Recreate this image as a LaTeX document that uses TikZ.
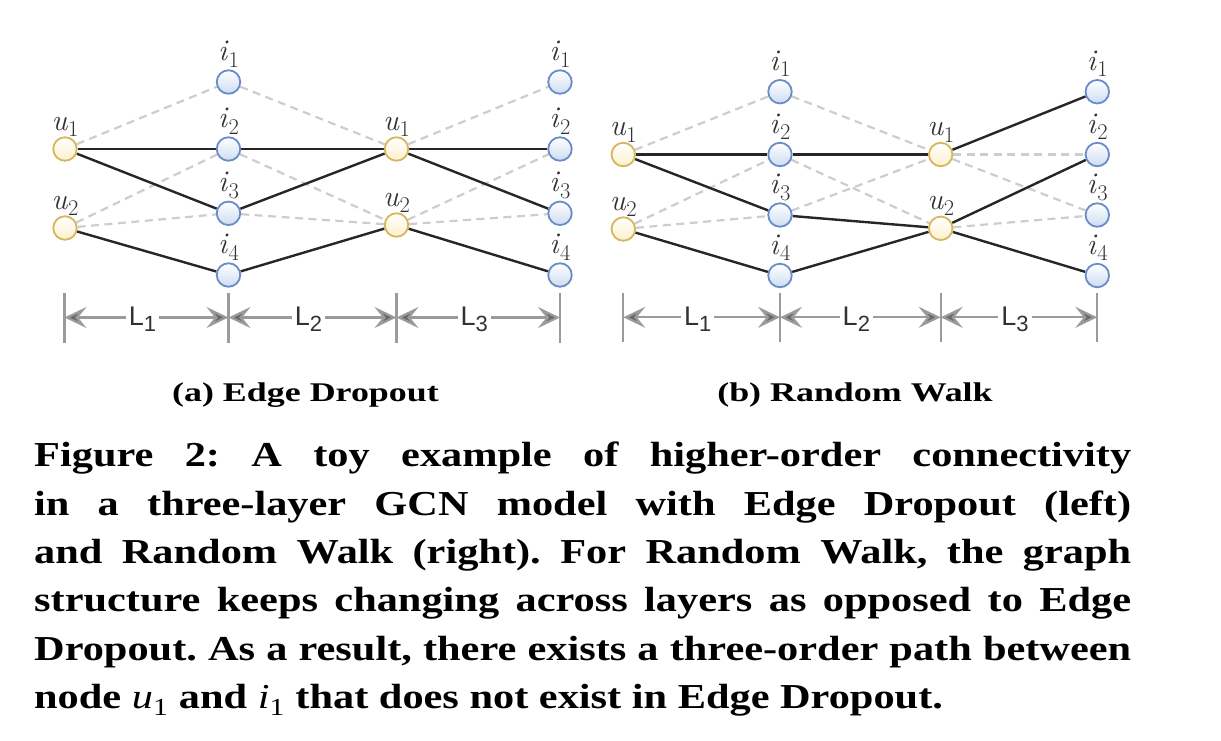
\documentclass[tikz,border=0pt]{standalone}
\usepackage{fontspec}
\usetikzlibrary{arrows.meta,backgrounds,calc}
\newfontfamily\capfont[FakeStretch=1.21]{Liberation Serif}
\newfontfamily\subcapfont[FakeStretch=1.33]{Liberation Serif}
\newfontfamily\dimfont{Liberation Sans}
\frenchspacing
\definecolor{ubord}{RGB}{214,182,92}
\definecolor{ufill}{RGB}{252,240,204}
\definecolor{ibord}{RGB}{104,140,200}
\definecolor{ifill}{RGB}{205,220,242}
\definecolor{edgecol}{RGB}{38,38,38}
\definecolor{dropcol}{RGB}{205,205,205}
\definecolor{dimcol}{RGB}{155,155,155}
\definecolor{tipcol}{RGB}{105,105,105}
\definecolor{labcol}{RGB}{50,50,50}
\tikzset{
  unode/.style={circle, draw=ubord, line width=1.8pt, minimum size=23.5pt, inner sep=0pt, top color=white, bottom color=ufill},
  inode/.style={circle, draw=ibord, line width=1.8pt, minimum size=23.5pt, inner sep=0pt, top color=white, bottom color=ifill},
  kept/.style={draw=edgecol, line width=2.4pt},
  dropped/.style={draw=dropcol, line width=2.2pt, dash pattern=on 8pt off 5.5pt},
  mlab/.style={anchor=base, text=labcol, font=\fontsize{30}{32}\selectfont, inner sep=0pt},
  tickline/.style={draw=dimcol, line width=2.2pt},
  dimline/.style={draw=dimcol, line width=2.2pt, <->, >={Stealth[length=22pt,width=21pt,inset=8.5pt,fill=tipcol]}},
  dimlab/.style={anchor=base, fill=white, text=labcol, font=\dimfont\fontsize{27}{28}\selectfont, inner sep=3pt},
  capline/.style={anchor=base west, inner sep=0pt, font=\capfont\bfseries\fontsize{35}{40}\selectfont},
  subcap/.style={anchor=base, inner sep=0pt, font=\subcapfont\bfseries\fontsize{27}{30}\selectfont},
}
\newcommand\nodelab[4]{\node[mlab] (#1l) at ($(#1)+(0,-#4)$) {\textit{#2}\raisebox{-6.5pt}{\fontsize{22.5}{23}\selectfont #3}};}
\newcommand\Lsub[1]{L\raisebox{-6pt}{\fontsize{22}{22}\selectfont #1}}
\begin{document}
\begin{tikzpicture}[x=1pt,y=-1pt]
\useasboundingbox (0,0) rectangle (1221,740);
% ---------------- panel (a) ----------------
\node[unode] (a_u1) at (65,149) {};
\node[unode] (a_u2) at (65,228) {};
\node[inode] (a_i1) at (228.5,82) {};
\node[inode] (a_i2) at (228.5,149) {};
\node[inode] (a_i3) at (228.5,213.3) {};
\node[inode] (a_i4) at (228.5,275) {};
\node[unode] (a_v1) at (396.5,149) {};
\node[unode] (a_v2) at (396.5,225) {};
\node[inode] (a_j1) at (560,82) {};
\node[inode] (a_j2) at (560,149) {};
\node[inode] (a_j3) at (560,213.3) {};
\node[inode] (a_j4) at (560,275) {};
\nodelab{a_u1}{u}{1}{19}
\nodelab{a_u2}{u}{2}{19}
\nodelab{a_i1}{i}{1}{21.5}
\nodelab{a_i2}{i}{2}{21.5}
\nodelab{a_i3}{i}{3}{21.5}
\nodelab{a_i4}{i}{4}{21.5}
\nodelab{a_v1}{u}{1}{19}
\nodelab{a_v2}{u}{2}{19}
\nodelab{a_j1}{i}{1}{21.5}
\nodelab{a_j2}{i}{2}{21.5}
\nodelab{a_j3}{i}{3}{21.5}
\nodelab{a_j4}{i}{4}{21.5}
\begin{scope}[on background layer]
\draw[dropped] (a_u1) -- (a_i1);
\draw[dropped] (a_u2) -- (a_i2);
\draw[dropped] (a_u2) -- (a_i3);
\draw[dropped] (a_i1) -- (a_v1);
\draw[dropped] (a_i2) -- (a_v2);
\draw[dropped] (a_i3) -- (a_v2);
\draw[dropped] (a_v1) -- (a_j1);
\draw[dropped] (a_v2) -- (a_j2);
\draw[dropped] (a_v2) -- (a_j3);
\draw[kept] (a_u1) -- (a_i2);
\draw[kept] (a_u1) -- (a_i3);
\draw[kept] (a_u2) -- (a_i4);
\draw[kept] (a_i2) -- (a_v1);
\draw[kept] (a_i3) -- (a_v1);
\draw[kept] (a_i4) -- (a_v2);
\draw[kept] (a_v1) -- (a_j2);
\draw[kept] (a_v1) -- (a_j3);
\draw[kept] (a_v2) -- (a_j4);
\end{scope}
\coordinate (a_t0) at (64.5,317.5);
\coordinate (a_t1) at (228.5,317.5);
\coordinate (a_t2) at (396.5,317.5);
\coordinate (a_t3) at (560,317.5);
\foreach \t in {a_t0,a_t1,a_t2,a_t3}{\draw[tickline] ($(\t)+(0,-24.5)$) -- ($(\t)+(0,25.5)$);}
\draw[dimline] (a_t0) -- (a_t1);
\draw[dimline] (a_t1) -- (a_t2);
\draw[dimline] (a_t2) -- (a_t3);
\node[dimlab] (a_L1) at ($(a_t0)!0.5!(a_t1)+(-4,8)$) {\Lsub{1}};
\node[dimlab] (a_L2) at ($(a_t1)!0.5!(a_t2)+(-4,8)$) {\Lsub{2}};
\node[dimlab] (a_L3) at ($(a_t2)!0.5!(a_t3)+(-4,8)$) {\Lsub{3}};
% ---------------- panel (b) ----------------
\node[unode] (b_u1) at (623.3,154.5) {};
\node[unode] (b_u2) at (623.3,229) {};
\node[inode] (b_i1) at (780,91.7) {};
\node[inode] (b_i2) at (780,154.5) {};
\node[inode] (b_i3) at (780,215) {};
\node[inode] (b_i4) at (780,275.5) {};
\node[unode] (b_v1) at (940.7,154.5) {};
\node[unode] (b_v2) at (940.7,228.3) {};
\node[inode] (b_j1) at (1097.3,91.7) {};
\node[inode] (b_j2) at (1097.3,154.5) {};
\node[inode] (b_j3) at (1097.3,215) {};
\node[inode] (b_j4) at (1097.3,275.5) {};
\nodelab{b_u1}{u}{1}{19}
\nodelab{b_u2}{u}{2}{19}
\nodelab{b_i1}{i}{1}{21.5}
\nodelab{b_i2}{i}{2}{21.5}
\nodelab{b_i3}{i}{3}{21.5}
\nodelab{b_i4}{i}{4}{21.5}
\nodelab{b_v1}{u}{1}{19}
\nodelab{b_v2}{u}{2}{19}
\nodelab{b_j1}{i}{1}{21.5}
\nodelab{b_j2}{i}{2}{21.5}
\nodelab{b_j3}{i}{3}{21.5}
\nodelab{b_j4}{i}{4}{21.5}
\begin{scope}[on background layer]
\draw[dropped] (b_u1) -- (b_i1);
\draw[dropped] (b_u2) -- (b_i2);
\draw[dropped] (b_u2) -- (b_i3);
\draw[dropped] (b_i1) -- (b_v1);
\draw[dropped] (b_i2) -- (b_v2);
\draw[dropped] (b_i3) -- (b_v1);
\draw[dropped] (b_v1) -- (b_j2);
\draw[dropped] (b_v1) -- (b_j3);
\draw[dropped] (b_v2) -- (b_j3);
\draw[kept] (b_u1) -- (b_i2);
\draw[kept] (b_u1) -- (b_i3);
\draw[kept] (b_u2) -- (b_i4);
\draw[kept] (b_i2) -- (b_v1);
\draw[kept] (b_i3) -- (b_v2);
\draw[kept] (b_i4) -- (b_v2);
\draw[kept] (b_v1) -- (b_j1);
\draw[kept] (b_v2) -- (b_j2);
\draw[kept] (b_v2) -- (b_j4);
\end{scope}
\coordinate (b_t0) at (623.3,317.3);
\coordinate (b_t1) at (780,317.3);
\coordinate (b_t2) at (940.7,317.3);
\coordinate (b_t3) at (1097.3,317.3);
\foreach \t in {b_t0,b_t1,b_t2,b_t3}{\draw[tickline] ($(\t)+(0,-24.3)$) -- ($(\t)+(0,24.7)$);}
\draw[dimline] (b_t0) -- (b_t1);
\draw[dimline] (b_t1) -- (b_t2);
\draw[dimline] (b_t2) -- (b_t3);
\node[dimlab] (b_L1) at ($(b_t0)!0.5!(b_t1)+(-4,8)$) {\Lsub{1}};
\node[dimlab] (b_L2) at ($(b_t1)!0.5!(b_t2)+(-4,8)$) {\Lsub{2}};
\node[dimlab] (b_L3) at ($(b_t2)!0.5!(b_t3)+(-4,8)$) {\Lsub{3}};
% ---------------- captions ----------------
\node[subcap] (suba) at (305.5,401.7) {(a) Edge Dropout};
\node[subcap] (subb) at (855,401.7) {(b) Random Walk};
\node[capline] (cap1) at (34,466.7) {\makebox[1097pt][s]{Figure 2: A toy example of higher-order connectivity}};
\node[capline] (cap2) at (34,515) {\makebox[1097pt][s]{in a three-layer GCN model with Edge Dropout (left)}};
\node[capline] (cap3) at (34,563.3) {\makebox[1097pt][s]{and Random Walk (right). For Random Walk, the graph}};
\node[capline] (cap4) at (34,611.6) {\makebox[1097pt][s]{structure keeps changing across layers as opposed to Edge}};
\node[capline] (cap5) at (34,660) {\makebox[1097pt][s]{Dropout. As a result, there exists a three-order path between}};
\node[capline] (cap6) at (34,708.3) {node {\mdseries\itshape u}\textsubscript{\mdseries 1} and {\mdseries\itshape i}\textsubscript{\mdseries 1} that does not exist in Edge Dropout.};
\end{tikzpicture}
\end{document}
